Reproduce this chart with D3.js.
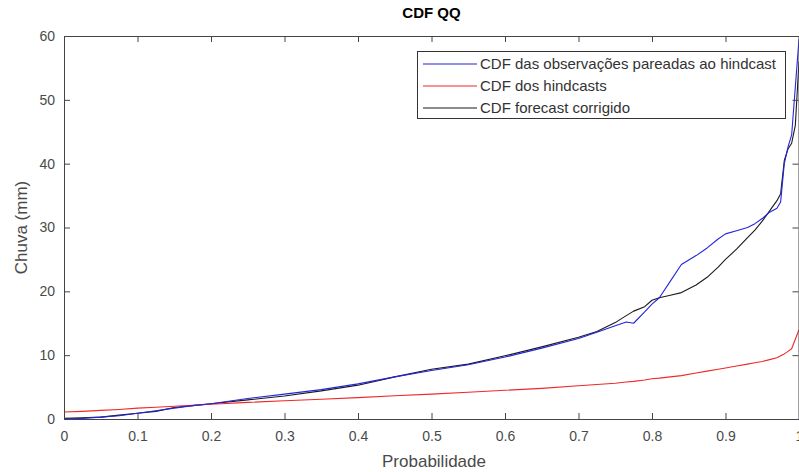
<!DOCTYPE html>
<html><head><meta charset="utf-8">
<script src="https://cdn.jsdelivr.net/npm/d3@7"></script>
<style>body{margin:0;background:#fff;}svg{display:block;}text{font-family:"Liberation Sans",Arial,sans-serif;}</style>
</head><body><svg id="c" width="799" height="472"></svg>
<script>
const probs = [0,0.025,0.05,0.075,0.1,0.125,0.15,0.175,0.2,0.25,0.3,0.35,0.4,0.45,0.5,0.55,0.6,0.65,0.7,0.725,0.75,0.765,0.775,0.79,0.8,0.81,0.825,0.84,0.86,0.875,0.89,0.9,0.915,0.93,0.94,0.95,0.96,0.97,0.975,0.98,0.985,0.99,0.995,1.0];
const obsValues = [0.0,0.1,0.3,0.5,0.9,1.3,1.7,2.1,2.4,3.2,3.9,4.6,5.5,6.6,7.6,8.5,9.7,11.1,12.6,13.6,14.6,15.2,15.0,16.8,18.0,19.0,21.6,24.2,25.6,26.8,28.2,29.0,29.5,30.0,30.6,31.4,32.4,33.0,34.0,40.0,42.6,44.5,52.0,59.5];
const hindValues = [1.1,1.2,1.35,1.5,1.7,1.85,2.0,2.15,2.3,2.6,2.85,3.1,3.35,3.65,3.9,4.2,4.5,4.8,5.2,5.4,5.6,5.8,5.9,6.1,6.3,6.4,6.6,6.8,7.2,7.5,7.8,8.0,8.3,8.6,8.8,9.0,9.3,9.6,9.9,10.2,10.6,11.0,12.5,14.0];
const corrValues = [0.1,0.2,0.3,0.6,0.9,1.2,1.8,2.1,2.4,3.0,3.6,4.4,5.3,6.6,7.8,8.6,9.9,11.3,12.8,13.7,15.1,16.2,16.9,17.6,18.6,19.0,19.4,19.8,21.0,22.2,23.8,25.0,26.6,28.4,29.6,31.0,32.6,34.2,35.3,40.5,42.3,43.2,46.0,56.0];
const xTicks = [0,0.1,0.2,0.3,0.4,0.5,0.6,0.7,0.8,0.9,1];
const yTicks = [0,10,20,30,40,50,60];
const seriesNames = ["CDF das observações pareadas ao hindcast","CDF dos hindcasts","CDF forecast corrigido"];
const seriesColors = ["#2424dc","#f02828","#1a1a1a"];
const title = "CDF QQ", xLabel = "Probabilidade", yLabel = "Chuva (mm)";

const svg = d3.select("#c");
const L=64, R=799, T=36, B=419;
const x = d3.scaleLinear().domain([0,1]).range([L,R]);
const y = d3.scaleLinear().domain([0,60]).range([B,T]);
const axisCol = "#444", textCol = "#4a4a4a";
const tk = 6;

const seriesData = [obsValues, hindValues, corrValues];
const line = d3.line().x((d,i)=>x(probs[i])).y(d=>y(d));
svg.append("clipPath").attr("id","clp").append("rect").attr("x",L).attr("y",T).attr("width",R-L).attr("height",B-T);
const g = svg.append("g").attr("clip-path","url(#clp)");
[2,1,0].forEach(k=>{
  g.append("path").datum(seriesData[k]).attr("d",line).attr("fill","none").attr("stroke",seriesColors[k]).attr("stroke-width",1.1).attr("stroke-linejoin","round");
});

const xb = svg.append("g").attr("transform",`translate(0,${B})`).call(d3.axisBottom(x).tickValues(xTicks).tickSize(-tk).tickPadding(12).tickFormat(d=>d3.format("")(d)));
const xt = svg.append("g").attr("transform",`translate(0,${T})`).call(d3.axisTop(x).tickValues(xTicks).tickSize(-tk).tickFormat(""));
const yl = svg.append("g").attr("transform",`translate(${L},0)`).call(d3.axisLeft(y).tickValues(yTicks).tickSize(-tk).tickPadding(9));
const yr = svg.append("g").attr("transform",`translate(${R-0.5},0)`).call(d3.axisRight(y).tickValues(yTicks).tickSize(-tk).tickFormat(""));
[xb,xt,yl,yr].forEach(a=>{
  a.select(".domain").attr("stroke",axisCol);
  a.selectAll(".tick line").attr("stroke",axisCol);
  a.selectAll("text").attr("fill",textCol).style("font-size","14px").style("font-family","'Liberation Sans',Arial,sans-serif");
});

svg.append("text").attr("x",(L+R)/2).attr("y",18).attr("text-anchor","middle").style("font-size","15px").style("font-weight","bold").attr("fill","#000").text(title);
svg.append("text").attr("x",434).attr("y",467).attr("text-anchor","middle").style("font-size","17px").attr("fill",textCol).text(xLabel);
svg.append("text").attr("transform",`translate(27,${(T+B)/2}) rotate(-90)`).attr("text-anchor","middle").style("font-size","17px").attr("fill",textCol).text(yLabel);

const lg = svg.append("g");
lg.append("rect").attr("x",417.5).attr("y",51.5).attr("width",368).attr("height",67).attr("fill","#fff").attr("stroke","#333").attr("stroke-width",1);
seriesNames.forEach((n,i)=>{
  const yy = 64 + i*22;
  lg.append("line").attr("x1",423).attr("x2",477).attr("y1",yy).attr("y2",yy).attr("stroke",seriesColors[i]).attr("stroke-width",1.1);
  lg.append("text").attr("x",480).attr("y",yy+5).style("font-size","15px").attr("fill","#333").text(n);
});
</script></body></html>
